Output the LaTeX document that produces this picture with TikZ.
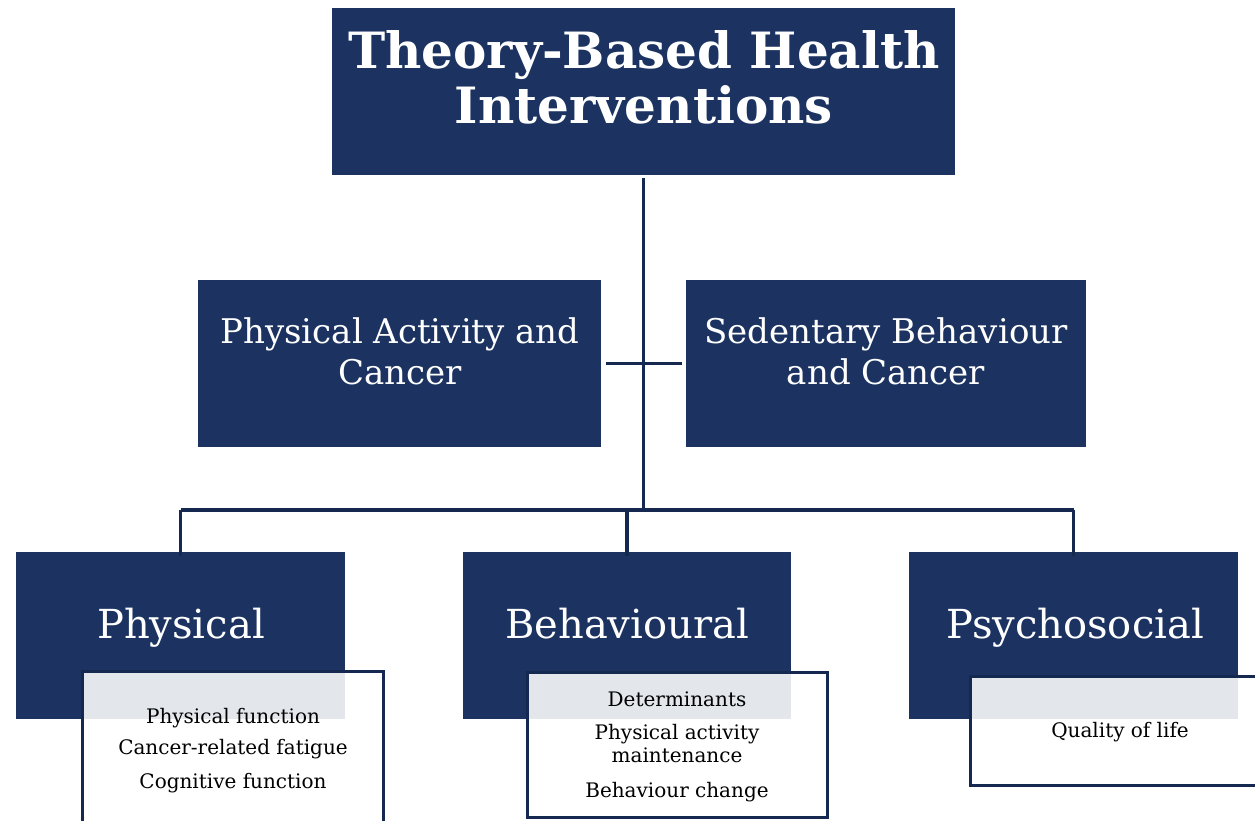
\documentclass[tikz,border=0pt]{standalone}
\usepackage{fontspec}
\setmainfont{DejaVu Serif}
\definecolor{navy}{RGB}{28,51,97}
\definecolor{wirecol}{RGB}{20,40,80}
\begin{document}
\begin{tikzpicture}[x=1pt,y=-1pt,
  darkbox/.style={fill=navy, draw=none, inner sep=0pt},
  lighttext/.style={text=white, anchor=base, inner sep=0pt},
  titlefont/.style={font=\fontsize{50}{55}\selectfont\bfseries},
  midfont/.style={font=\fontsize{34}{41}\selectfont},
  lowfont/.style={font=\fontsize{40}{48}\selectfont},
  subbox/.style={fill=white, fill opacity=0.88, draw=wirecol, line width=3pt},
  subtext/.style={text=black, anchor=base, inner sep=0pt, font=\fontsize{20}{24}\selectfont},
  wire/.style={draw=wirecol, line width=3.4pt}]
\useasboundingbox (0,0) rectangle (1255,820);

% top box
\node[darkbox, minimum width=623pt, minimum height=167pt] (title) at (643.5,91.5) {};
\node[lighttext, titlefont] (t1) at (644,68) {Theory-Based Health};
\node[lighttext, titlefont] (t2) at (644,123) {Interventions};

% middle boxes
\node[darkbox, minimum width=403pt, minimum height=167pt] (pa) at (399.5,363.5) {};
\node[lighttext, midfont] (pa1) at (400,343) {Physical Activity and};
\node[lighttext, midfont] (pa2) at (400,384) {Cancer};
\node[darkbox, minimum width=400pt, minimum height=167pt] (sb) at (886,363.5) {};
\node[lighttext, midfont] (sb1) at (886,343) {Sedentary Behaviour};
\node[lighttext, midfont] (sb2) at (886,384) {and Cancer};

% bottom boxes
\node[darkbox, minimum width=329pt, minimum height=167pt] (phys) at (180.5,635.5) {};
\node[lighttext, lowfont] (phystext) at (181,638) {Physical};
\node[darkbox, minimum width=328pt, minimum height=167pt] (beh) at (627,635.5) {};
\node[lighttext, lowfont] (behtext) at (627,638) {Behavioural};
\node[darkbox, minimum width=329pt, minimum height=167pt] (psy) at (1073.5,635.5) {};
\node[lighttext, lowfont] (psytext) at (1075,638) {Psychosocial};

% overlapping outcome boxes
\path[subbox] (82,671) rectangle (383,840);
\path[subbox] (527,672) rectangle (827,817);
\path[subbox] (970,676) rectangle (1275,785);

\node[subtext] (o1) at (233,723) {Physical function};
\node[subtext] (o2) at (233,754) {Cancer-related fatigue};
\node[subtext] (o3) at (233,788) {Cognitive function};
\node[subtext] (o4) at (677,706) {Determinants};
\node[subtext] (o5) at (677,739) {Physical activity};
\node[subtext] (o6) at (677,762) {maintenance};
\node[subtext] (o7) at (677,797) {Behaviour change};
\node[subtext] (o8) at (1120,737) {Quality of life};

% connectors
\coordinate (bus) at (644,510);
\draw[wire] ([yshift=-3pt]title.south) -- (title.south |- bus);
\draw[wire] ([xshift=5pt]pa.east) -- ([xshift=-4pt]sb.west);
\draw[wire] (phys.north |- bus) -- (psy.north |- bus);
\draw[wire] (phys.north |- bus) -- ([yshift=-4pt]phys.north);
\draw[wire] (beh.north |- bus) -- ([yshift=-4pt]beh.north);
\draw[wire] (psy.north |- bus) -- ([yshift=-4pt]psy.north);
\end{tikzpicture}
\end{document}
